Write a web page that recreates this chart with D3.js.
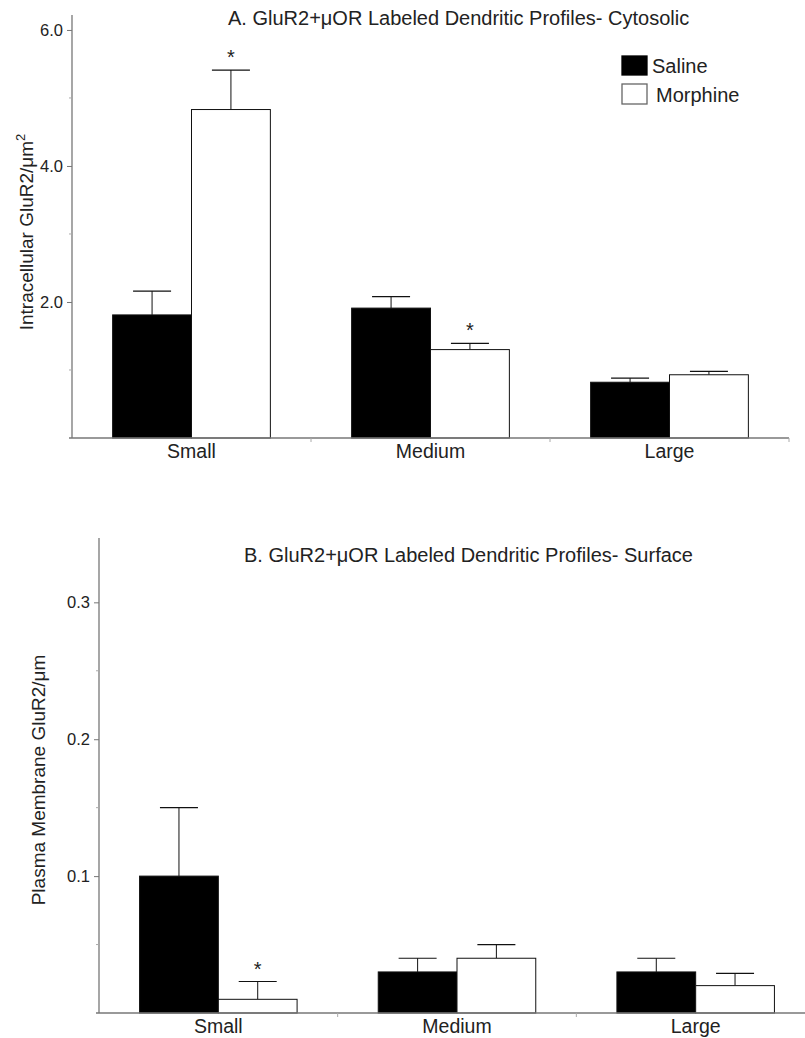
<!DOCTYPE html>
<html>
<head>
<meta charset="utf-8">
<script src="https://cdn.jsdelivr.net/npm/d3@7"></script>
<style>
  html, body { margin: 0; padding: 0; background: #fff; }
  svg { display: block; }
  text { font-family: "Liberation Sans", Arial, Helvetica, sans-serif; fill: #222; }
</style>
</head>
<body>
<svg id="chart" width="805" height="1038"></svg>
<script>
// ---- data ----
const categories = ["Small", "Medium", "Large"];
const seriesNames = ["Saline", "Morphine"];

// Panel A: cytosolic (intracellular GluR2 / µm²)
const cytoSaline = [1.81, 1.91, 0.82];
const cytoSalineErr = [0.35, 0.17, 0.06];
const cytoMorphine = [4.83, 1.30, 0.93];
const cytoMorphineErr = [0.58, 0.09, 0.05];
const cytoMorphineSig = [true, true, false];
const cytoTicksMajor = [2, 4, 6];
const cytoTickLabels = ["2.0", "4.0", "6.0"];
const cytoTicksMinor = [1, 3, 5];

// Panel B: surface (plasma membrane GluR2 / µm)
const surfSaline = [0.100, 0.030, 0.030];
const surfSalineErr = [0.050, 0.010, 0.010];
const surfMorphine = [0.010, 0.040, 0.020];
const surfMorphineErr = [0.013, 0.010, 0.009];
const surfMorphineSig = [true, false, false];
const surfTicksMajor = [0.1, 0.2, 0.3];
const surfTickLabels = ["0.1", "0.2", "0.3"];
const surfTicksMinor = [0.05, 0.15, 0.25];

const svg = d3.select("#chart");
const fills = ["#000", "#fff"];

function panel(cfg) {
  const g = svg.append("g");
  const x = d3.scaleBand().domain(categories).range([cfg.x0, cfg.x1])
    .paddingInner(0.34).paddingOuter(0.17);
  const xs = d3.scaleBand().domain(seriesNames).range([0, x.bandwidth()]);
  const y = d3.scaleLinear().domain([0, cfg.yMax]).range([cfg.yBase, cfg.yTop]);
  const axisColor = "#777";

  // y axis line
  g.append("line").attr("x1", cfg.x0).attr("x2", cfg.x0)
    .attr("y1", y(cfg.yMax)).attr("y2", y(0))
    .attr("stroke", axisColor).attr("stroke-width", 1.3);
  // major ticks
  const yAxis = d3.axisLeft(y).tickValues(cfg.major).tickSize(5)
    .tickFormat((d, i) => cfg.labels[i]);
  const ya = g.append("g").attr("transform", `translate(${cfg.x0},0)`).call(yAxis);
  ya.select(".domain").remove();
  ya.selectAll(".tick line").attr("stroke", axisColor);
  ya.selectAll(".tick text").attr("font-size", 16.5).attr("fill", "#222")
    .attr("font-family", '"Liberation Sans", Arial, sans-serif').attr("dx", -1);
  // minor ticks
  g.selectAll(".minor").data(cfg.minor).enter().append("line")
    .attr("x1", cfg.x0 - 3).attr("x2", cfg.x0)
    .attr("y1", d => y(d)).attr("y2", d => y(d))
    .attr("stroke", "#aaa");

  // bars
  const data = [];
  categories.forEach((c, i) => {
    data.push({c, s: "Saline", v: cfg.saline[i], e: cfg.salineErr[i], sig: false});
    data.push({c, s: "Morphine", v: cfg.morph[i], e: cfg.morphErr[i], sig: cfg.sig[i]});
  });
  const bw = xs.bandwidth();
  const capW = 38;
  const bars = g.selectAll(".bar").data(data).enter().append("g");
  bars.append("line")
    .attr("x1", d => x(d.c) + xs(d.s) + bw / 2).attr("x2", d => x(d.c) + xs(d.s) + bw / 2)
    .attr("y1", d => y(d.v)).attr("y2", d => y(d.v + d.e))
    .attr("stroke", "#111").attr("stroke-width", 1);
  bars.append("line")
    .attr("x1", d => x(d.c) + xs(d.s) + bw / 2 - capW / 2)
    .attr("x2", d => x(d.c) + xs(d.s) + bw / 2 + capW / 2)
    .attr("y1", d => y(d.v + d.e)).attr("y2", d => y(d.v + d.e))
    .attr("stroke", "#111").attr("stroke-width", 1.2);
  bars.append("rect")
    .attr("x", d => x(d.c) + xs(d.s)).attr("width", bw)
    .attr("y", d => y(d.v)).attr("height", d => y(0) - y(d.v))
    .attr("fill", d => fills[seriesNames.indexOf(d.s)])
    .attr("stroke", "#111").attr("stroke-width", 1);
  bars.filter(d => d.sig).append("text")
    .attr("x", d => x(d.c) + xs(d.s) + bw / 2)
    .attr("y", d => y(d.v + d.e) - 6)
    .attr("text-anchor", "middle").attr("font-size", 20).text("*");

  // x axis
  g.append("line").attr("x1", cfg.x0 - 3).attr("x2", cfg.x1)
    .attr("y1", y(0)).attr("y2", y(0))
    .attr("stroke", axisColor).attr("stroke-width", 1.3);
  const bounds = categories.map(c => x(c) + x.bandwidth() + x.step() * 0.17);
  g.selectAll(".xt").data(bounds).enter().append("line")
    .attr("x1", d => d).attr("x2", d => d)
    .attr("y1", y(0)).attr("y2", y(0) + 4).attr("stroke", "#aaa");
  g.selectAll(".xl").data(categories).enter().append("text")
    .attr("x", d => x(d) + x.bandwidth() / 2).attr("y", y(0) + cfg.labelDy)
    .attr("text-anchor", "middle").attr("font-size", 19.5).text(d => d);

  // title
  g.append("text").attr("x", cfg.titleX).attr("y", cfg.titleY)
    .attr("font-size", 20).text(cfg.title);

  // y label
  const yl = g.append("text")
    .attr("transform", `translate(${cfg.ylX},${cfg.ylY}) rotate(-90)`)
    .attr("text-anchor", "middle").attr("font-size", 19);
  yl.append("tspan").text(cfg.ylabel);
  if (cfg.ysup) yl.append("tspan").attr("font-size", 13).attr("dy", -8).text(cfg.ysup);
  return g;
}

panel({
  x0: 72, x1: 789, yBase: 438, yTop: 15, yMax: 6.22,
  saline: cytoSaline, salineErr: cytoSalineErr,
  morph: cytoMorphine, morphErr: cytoMorphineErr, sig: cytoMorphineSig,
  major: cytoTicksMajor, labels: cytoTickLabels, minor: cytoTicksMinor,
  labelDy: 20,
  title: "A. GluR2+\u03bcOR Labeled Dendritic Profiles- Cytosolic", titleX: 228, titleY: 25,
  ylabel: "Intracellular GluR2/\u03bcm", ysup: "2", ylX: 33, ylY: 232
});

panel({
  x0: 99, x1: 815, yBase: 1013, yTop: 538, yMax: 0.347,
  saline: surfSaline, salineErr: surfSalineErr,
  morph: surfMorphine, morphErr: surfMorphineErr, sig: surfMorphineSig,
  major: surfTicksMajor, labels: surfTickLabels, minor: surfTicksMinor,
  labelDy: 20,
  title: "B. GluR2+\u03bcOR Labeled Dendritic Profiles- Surface", titleX: 244, titleY: 562,
  ylabel: "Plasma Membrane GluR2/\u03bcm", ysup: null, ylX: 45, ylY: 780
});

// legend
const lg = svg.append("g");
const legY = [56, 84];
const legTextX = [652, 656];
const legTextY = [73, 102];
seriesNames.forEach((s, i) => {
  lg.append("rect").attr("x", 622).attr("y", legY[i]).attr("width", 25).attr("height", 19 + i)
    .attr("fill", fills[i]).attr("stroke", i ? "#666" : "#000").attr("stroke-width", 1.3);
  lg.append("text").attr("x", legTextX[i]).attr("y", legTextY[i]).attr("font-size", 20).text(s);
});
</script>
</body>
</html>
